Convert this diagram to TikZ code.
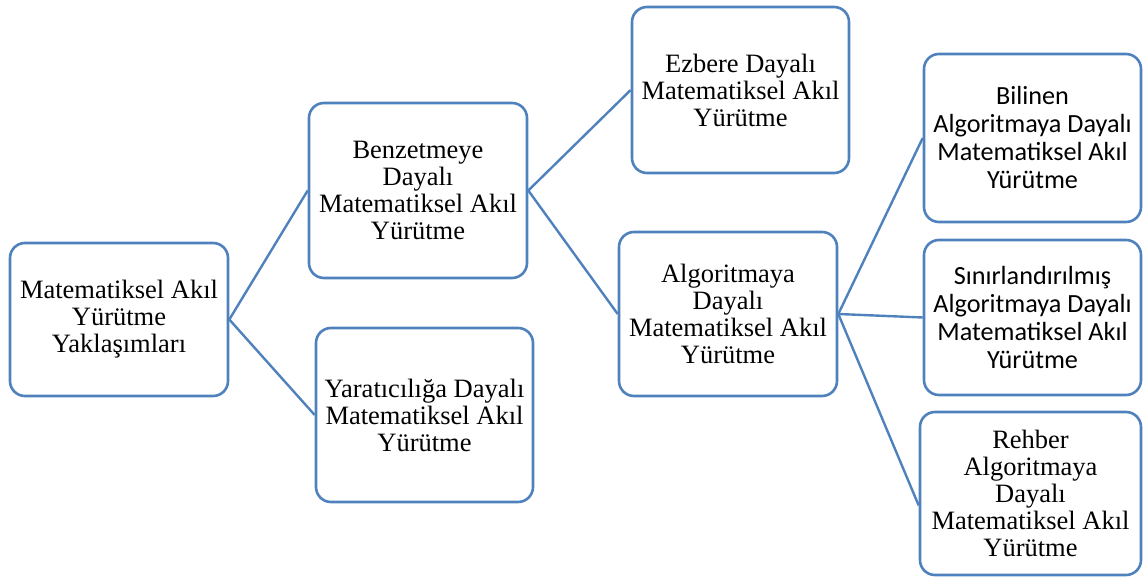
\documentclass[tikz,border=0pt]{standalone}
\usepackage{fontspec}
\setmainfont{Liberation Serif}
\newfontfamily\calib{Carlito}
\definecolor{boxblue}{HTML}{4F81BD}
\tikzset{
  card/.style={draw=boxblue, line width=2.6pt, rounded corners=15pt, fill=white,
    align=center, inner sep=0pt, font=\fontsize{26.5}{27}\selectfont},
  sanscard/.style={card, font=\calib\fontsize{26.2}{28}\selectfont},
  link/.style={draw=boxblue, line width=2.4pt},
}
\begin{document}
\begin{tikzpicture}[x=1pt, y=-1pt]
\useasboundingbox (0,0) rectangle (1145,577);
\node[card, minimum width=218pt, minimum height=153pt] (root) at (119,319.5)
  {Matematiksel Akıl\\Yürütme\\Yaklaşımları};
\node[card, minimum width=218pt, minimum height=175pt] (benz) at (418,190.5)
  {Benzetmeye\\Dayalı\\Matematiksel Akıl\\Yürütme};
\node[card, minimum width=217pt, minimum height=174pt] (yarat) at (424.5,415)
  {Yaratıcılığa Dayalı\\Matematiksel Akıl\\Yürütme};
\node[card, minimum width=217pt, minimum height=166pt] (ezb) at (740.5,90)
  {Ezbere Dayalı\\Matematiksel Akıl\\Yürütme};
\node[card, minimum width=218pt, minimum height=164pt] (algo) at (728,314)
  {Algoritmaya\\Dayalı\\Matematiksel Akıl\\Yürütme};
\node[sanscard, minimum width=217pt, minimum height=168pt] (bil) at (1032.5,138)
  {Bilinen\\Algoritmaya Dayalı\\Matematiksel Akıl\\Yürütme};
\node[sanscard, minimum width=217pt, minimum height=155pt] (sin) at (1032.5,317.5)
  {Sınırlandırılmış\\Algoritmaya Dayalı\\Matematiksel Akıl\\Yürütme};
\node[card, minimum width=221pt, minimum height=163pt] (reh) at (1030.5,493.5)
  {Rehber\\Algoritmaya\\Dayalı\\Matematiksel Akıl\\Yürütme};
% connectors from each parent's right side to its children's left sides
\draw[link] (root.east) -- (benz.west);
\draw[link] (root.east) -- (yarat.west);
\draw[link] (benz.east) -- (ezb.west);
\draw[link] (benz.east) -- (algo.west);
\draw[link] (algo.east) -- (bil.west);
\draw[link] (algo.east) -- (sin.west);
\draw[link] (algo.east) -- ([yshift=-12pt]reh.west);
\end{tikzpicture}
\end{document}
